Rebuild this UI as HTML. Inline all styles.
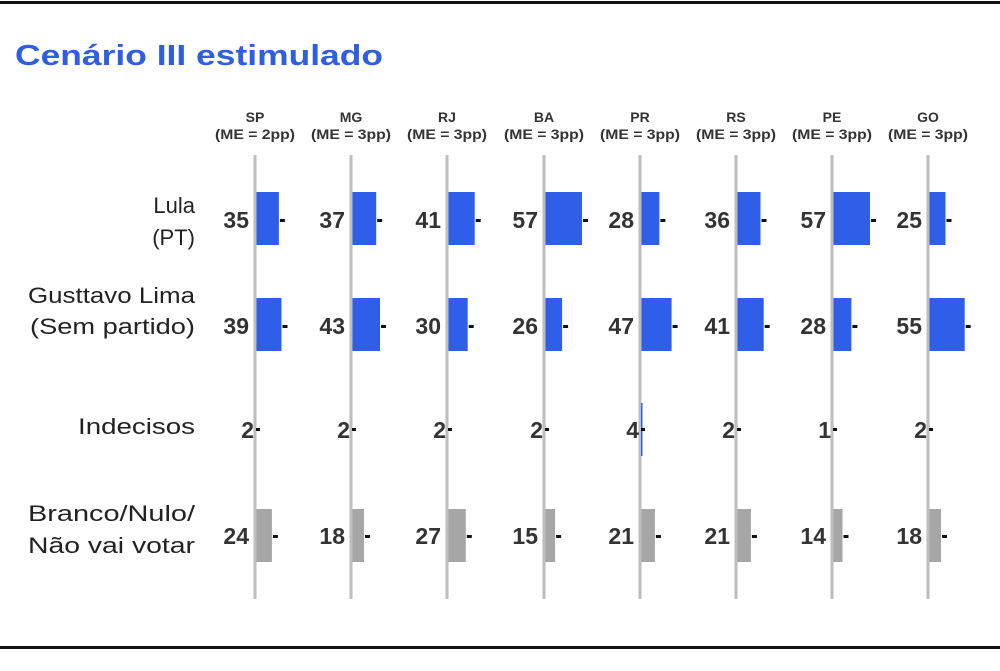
<!DOCTYPE html>
<html><head><meta charset="utf-8"><style>
body{margin:0;background:#fff;}
</style></head><body>
<svg width="1000" height="666" xmlns="http://www.w3.org/2000/svg" font-family="Liberation Sans, sans-serif">
<defs>
<style>
.h{font-size:14px;font-weight:bold;fill:#333;text-anchor:middle}
.n{font-size:23px;font-weight:bold;fill:#333;text-anchor:end}
.ax{fill:#bdbdbd}.b{fill:#2f5fe8}.g{fill:#a6a6a6}.t{fill:#111}
</style>
</defs>
<rect width="1000" height="666" fill="#fff"/>
<rect x="0" y="1" width="1000" height="3" fill="#111"/>
<rect x="0" y="646" width="1000" height="3" fill="#111"/>
<text x="15" y="65" font-size="29" font-weight="bold" fill="#2f5fe0" textLength="368" lengthAdjust="spacingAndGlyphs">Cenário III estimulado</text>
<g font-size="22" fill="#222" text-anchor="end">
<text x="195" y="213">Lula</text><text x="195" y="245">(PT)</text>
<text x="195" y="303" textLength="167" lengthAdjust="spacingAndGlyphs">Gusttavo Lima</text><text x="195" y="334" textLength="165" lengthAdjust="spacingAndGlyphs">(Sem partido)</text>
<text x="195" y="434" textLength="117" lengthAdjust="spacingAndGlyphs">Indecisos</text>
<text x="195" y="521" textLength="167" lengthAdjust="spacingAndGlyphs">Branco/Nulo/</text><text x="195" y="553" textLength="167" lengthAdjust="spacingAndGlyphs">Não vai votar</text>
</g>

<g transform="translate(255,0)">
<text class="h" y="122">SP</text><text class="h" y="139" textLength="80" lengthAdjust="spacingAndGlyphs">(ME = 2pp)</text>
<rect class="ax" x="-1.5" y="155" width="3" height="444"/>
<rect class="b" x="1.5" y="192" width="22.4" height="53"/><rect class="t" x="24.9" y="219" width="5" height="3"/><text class="n" x="-6" y="228">35</text>
<rect class="b" x="1.5" y="298" width="25" height="53"/><rect class="t" x="27.5" y="325" width="5" height="3"/><text class="n" x="-6" y="334">39</text>
<rect class="t" x="1" y="428" width="4" height="3"/><text class="n" x="-1" y="438">2</text>
<rect class="g" x="1.5" y="509" width="15.4" height="53"/><rect class="t" x="17.9" y="535" width="5" height="3"/><text class="n" x="-6" y="544">24</text>
</g>
<g transform="translate(351,0)">
<text class="h" y="122">MG</text><text class="h" y="139" textLength="80" lengthAdjust="spacingAndGlyphs">(ME = 3pp)</text>
<rect class="ax" x="-1.5" y="155" width="3" height="444"/>
<rect class="b" x="1.5" y="192" width="23.7" height="53"/><rect class="t" x="26.2" y="219" width="5" height="3"/><text class="n" x="-6" y="228">37</text>
<rect class="b" x="1.5" y="298" width="27.5" height="53"/><rect class="t" x="30" y="325" width="5" height="3"/><text class="n" x="-6" y="334">43</text>
<rect class="t" x="1" y="428" width="4" height="3"/><text class="n" x="-1" y="438">2</text>
<rect class="g" x="1.5" y="509" width="11.5" height="53"/><rect class="t" x="14" y="535" width="5" height="3"/><text class="n" x="-6" y="544">18</text>
</g>
<g transform="translate(447,0)">
<text class="h" y="122">RJ</text><text class="h" y="139" textLength="80" lengthAdjust="spacingAndGlyphs">(ME = 3pp)</text>
<rect class="ax" x="-1.5" y="155" width="3" height="444"/>
<rect class="b" x="1.5" y="192" width="26.2" height="53"/><rect class="t" x="28.7" y="219" width="5" height="3"/><text class="n" x="-6" y="228">41</text>
<rect class="b" x="1.5" y="298" width="19.2" height="53"/><rect class="t" x="21.7" y="325" width="5" height="3"/><text class="n" x="-6" y="334">30</text>
<rect class="t" x="1" y="428" width="4" height="3"/><text class="n" x="-1" y="438">2</text>
<rect class="g" x="1.5" y="509" width="17.3" height="53"/><rect class="t" x="19.8" y="535" width="5" height="3"/><text class="n" x="-6" y="544">27</text>
</g>
<g transform="translate(544,0)">
<text class="h" y="122">BA</text><text class="h" y="139" textLength="80" lengthAdjust="spacingAndGlyphs">(ME = 3pp)</text>
<rect class="ax" x="-1.5" y="155" width="3" height="444"/>
<rect class="b" x="1.5" y="192" width="36.5" height="53"/><rect class="t" x="39" y="219" width="5" height="3"/><text class="n" x="-6" y="228">57</text>
<rect class="b" x="1.5" y="298" width="16.6" height="53"/><rect class="t" x="19.1" y="325" width="5" height="3"/><text class="n" x="-6" y="334">26</text>
<rect class="t" x="1" y="428" width="4" height="3"/><text class="n" x="-1" y="438">2</text>
<rect class="g" x="1.5" y="509" width="9.6" height="53"/><rect class="t" x="12.1" y="535" width="5" height="3"/><text class="n" x="-6" y="544">15</text>
</g>
<g transform="translate(640,0)">
<text class="h" y="122">PR</text><text class="h" y="139" textLength="80" lengthAdjust="spacingAndGlyphs">(ME = 3pp)</text>
<rect class="ax" x="-1.5" y="155" width="3" height="444"/>
<rect class="b" x="1.5" y="192" width="17.9" height="53"/><rect class="t" x="20.4" y="219" width="5" height="3"/><text class="n" x="-6" y="228">28</text>
<rect class="b" x="1.5" y="298" width="30.1" height="53"/><rect class="t" x="32.6" y="325" width="5" height="3"/><text class="n" x="-6" y="334">47</text>
<rect class="b" x="1" y="403" width="1.5" height="53"/>
<rect class="t" x="1" y="428" width="4" height="3"/><text class="n" x="-1" y="438">4</text>
<rect class="g" x="1.5" y="509" width="13.4" height="53"/><rect class="t" x="15.9" y="535" width="5" height="3"/><text class="n" x="-6" y="544">21</text>
</g>
<g transform="translate(736,0)">
<text class="h" y="122">RS</text><text class="h" y="139" textLength="80" lengthAdjust="spacingAndGlyphs">(ME = 3pp)</text>
<rect class="ax" x="-1.5" y="155" width="3" height="444"/>
<rect class="b" x="1.5" y="192" width="23" height="53"/><rect class="t" x="25.5" y="219" width="5" height="3"/><text class="n" x="-6" y="228">36</text>
<rect class="b" x="1.5" y="298" width="26.2" height="53"/><rect class="t" x="28.7" y="325" width="5" height="3"/><text class="n" x="-6" y="334">41</text>
<rect class="t" x="1" y="428" width="4" height="3"/><text class="n" x="-1" y="438">2</text>
<rect class="g" x="1.5" y="509" width="13.4" height="53"/><rect class="t" x="15.9" y="535" width="5" height="3"/><text class="n" x="-6" y="544">21</text>
</g>
<g transform="translate(832,0)">
<text class="h" y="122">PE</text><text class="h" y="139" textLength="80" lengthAdjust="spacingAndGlyphs">(ME = 3pp)</text>
<rect class="ax" x="-1.5" y="155" width="3" height="444"/>
<rect class="b" x="1.5" y="192" width="36.5" height="53"/><rect class="t" x="39" y="219" width="5" height="3"/><text class="n" x="-6" y="228">57</text>
<rect class="b" x="1.5" y="298" width="17.9" height="53"/><rect class="t" x="20.4" y="325" width="5" height="3"/><text class="n" x="-6" y="334">28</text>
<rect class="t" x="1" y="428" width="4" height="3"/><text class="n" x="-1" y="438">1</text>
<rect class="g" x="1.5" y="509" width="9" height="53"/><rect class="t" x="11.5" y="535" width="5" height="3"/><text class="n" x="-6" y="544">14</text>
</g>
<g transform="translate(928,0)">
<text class="h" y="122">GO</text><text class="h" y="139" textLength="80" lengthAdjust="spacingAndGlyphs">(ME = 3pp)</text>
<rect class="ax" x="-1.5" y="155" width="3" height="444"/>
<rect class="b" x="1.5" y="192" width="16" height="53"/><rect class="t" x="18.5" y="219" width="5" height="3"/><text class="n" x="-6" y="228">25</text>
<rect class="b" x="1.5" y="298" width="35.2" height="53"/><rect class="t" x="37.7" y="325" width="5" height="3"/><text class="n" x="-6" y="334">55</text>
<rect class="t" x="1" y="428" width="4" height="3"/><text class="n" x="-1" y="438">2</text>
<rect class="g" x="1.5" y="509" width="11.5" height="53"/><rect class="t" x="14" y="535" width="5" height="3"/><text class="n" x="-6" y="544">18</text>
</g>
</svg>
</body></html>
